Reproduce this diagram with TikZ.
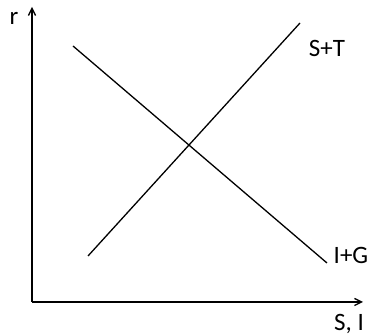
\documentclass[tikz,border=0pt]{standalone}
\usepackage{fontspec}
\setmainfont{Carlito}
\usetikzlibrary{arrows.meta,positioning}
\tikzset{
  axis/.style={-{Straight Barb[length=2.5mm,width=2.5mm]},line width=1.3pt,draw=black},
  curve/.style={line width=1.3pt,draw=black},
  lab/.style={font=\fontsize{25}{30}\selectfont,inner sep=0pt}
}

\begin{document}
\begin{tikzpicture}[x=1pt,y=-1pt]
 \useasboundingbox (0,0) rectangle (373,336);
 % axes
 \coordinate (o) at (32,302);
 \coordinate (ytop) at (32,7);
 \coordinate (xend) at (363,302);
 \draw[axis] (o) -- (ytop);
 \draw[axis] (o) -- (xend);
 \node[lab] (r) at (14,18) {r};
 \node[lab] (si) at (349,324) {S, I};
 % saving and investment curves
 \coordinate (st0) at (88,256);
 \coordinate (st1) at (300,23);
 \coordinate (ig0) at (73,46);
 \coordinate (ig1) at (327,263);
 \draw[curve] (st0) -- (st1);
 \draw[curve] (ig0) -- (ig1);
 \node[lab] (st) at (327,48) {S+T};
 \node[lab] (ig) at (351,255) {I+G};
\end{tikzpicture}
\end{document}
